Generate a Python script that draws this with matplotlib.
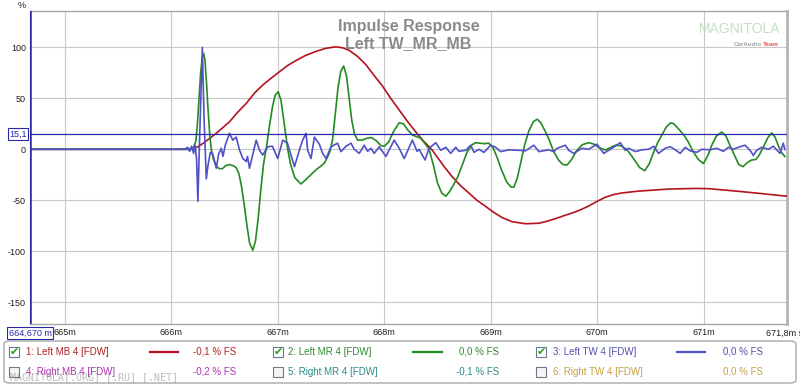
import numpy as np
import matplotlib
matplotlib.use("Agg")
import matplotlib.pyplot as plt
from matplotlib.patches import Rectangle, FancyBboxPatch

plt.rcParams['font.family'] = ['Liberation Sans', 'DejaVu Sans']

# ---------------- data (time in ms, amplitude in %) ----------------
mb_t = [664.672, 666.150, 666.200, 666.250, 666.300, 666.350, 666.422, 666.480, 666.546,
        666.620, 666.703, 666.780, 666.858, 666.940, 667.015, 667.090, 667.170, 667.260,
        667.359, 667.450, 667.546, 667.610, 667.671, 667.750, 667.827, 667.900, 667.983,
        668.060, 668.140, 668.220, 668.296, 668.360, 668.421, 668.452, 668.500, 668.570,
        668.639, 668.720, 668.796, 668.870, 668.952, 669.030, 669.108, 669.200, 669.327,
        669.452, 669.530, 669.608, 669.690, 669.764, 669.840, 669.920, 670.000, 670.077,
        670.150, 670.232, 670.389, 670.530, 670.670, 670.827, 670.940, 671.045, 671.200,
        671.357, 671.550, 671.780]
mb_v = [0, 0, 0.5, 2.5, 6, 10, 15.7, 21, 27,
        36, 45, 55, 63, 70, 76, 82, 87, 92,
        96, 99, 100.5, 99.5, 97, 91, 83, 73, 62,
        50, 38.5, 27, 17, 9, 2.5, -1, -8, -18,
        -27, -36, -43, -50, -56, -62, -67, -71, -73,
        -72.5, -70.5, -68, -65, -62.5, -59.5, -55.6, -51, -47,
        -44.5, -42.8, -41, -40, -39, -38.6, -38.4, -38.6, -40,
        -41.5, -43.5, -46]

mr_t = [664.672, 666.200, 666.230, 666.245, 666.260, 666.275, 666.290, 666.303, 666.315,
        666.330, 666.345, 666.360, 666.375, 666.395, 666.427, 666.450, 666.480, 666.510,
        666.546, 666.580, 666.609, 666.635, 666.660, 666.685, 666.710, 666.735, 666.765,
        666.790, 666.815, 666.840, 666.865, 666.896, 666.920, 666.950, 666.975, 667.003,
        667.030, 667.060, 667.093, 667.120, 667.160, 667.218, 667.260, 667.310, 667.360,
        667.410, 667.437, 667.465, 667.490, 667.515, 667.540, 667.565, 667.590, 667.618,
        667.645, 667.670, 667.695, 667.720, 667.750, 667.790, 667.840, 667.880, 667.930,
        667.970, 668.000, 668.040, 668.090, 668.140, 668.180, 668.220, 668.264, 668.300,
        668.340, 668.380, 668.421, 668.460, 668.500, 668.540, 668.577, 668.610, 668.650,
        668.690, 668.730, 668.777, 668.820, 668.858, 668.900, 668.940, 668.980, 669.020,
        669.060, 669.100, 669.150, 669.190, 669.218, 669.250, 669.284, 669.320, 669.358,
        669.400, 669.436, 669.470, 669.510, 669.546, 669.590, 669.640, 669.680, 669.717,
        669.760, 669.808, 669.860, 669.920, 669.970, 670.020, 670.077, 670.120, 670.170,
        670.220, 670.277, 670.320, 670.360, 670.400, 670.446, 670.490, 670.530, 670.570,
        670.607, 670.650, 670.690, 670.720, 670.773, 670.820, 670.857, 670.900, 670.950,
        670.998, 671.040, 671.080, 671.120, 671.170, 671.210, 671.242, 671.290, 671.330,
        671.370, 671.410, 671.450, 671.490, 671.520, 671.560, 671.600, 671.639, 671.670,
        671.700, 671.730, 671.762]
mr_v = [0, 0, 8, 25, 50, 75, 90, 94, 88,
        65, 38, 15, 0, -10, -17, -19, -19, -16,
        -15, -16, -18, -24, -37, -55, -75, -92, -99,
        -90, -68, -40, -15, 4, 22, 42, 53, 56.5,
        48, 25, 0, -15, -28, -34, -30, -25, -20,
        -16, -13.5, -8, -2, 10, 35, 60, 76, 81.7,
        72, 50, 28, 15, 9, 9, 11, 11.5, 8,
        3.5, 3, 7, 18, 26, 25, 19, 14, 12.5,
        11, 6, 0, -15, -33, -43, -46, -42, -35,
        -27, -16, -3, 4, 6.5, 6, 5.5, 6, 2,
        -8, -20, -32, -37, -37, -28, -12, 5, 18,
        27, 29.5, 26, 18, 10, -2, -11, -15, -15.4,
        -10, -1, 4.5, 6.5, 5, 1.5, -0.7, 1.5, 4,
        3.5, 0, -6, -12, -18, -21, -14, -3, 7,
        14, 22, 26, 25, 19, 13, 7, -2, -10,
        -14, -6, 5, 13, 17, 13, 5, -6, -15,
        -17, -13, -10.5, -10, -6, 2, 11, 16, 12,
        4, -3, -7]

tw_t = [664.672, 666.125, 666.153, 666.172, 666.190, 666.209, 666.223, 666.237, 666.249,
        666.265, 666.291, 666.307, 666.328, 666.345, 666.366, 666.387, 666.422, 666.443,
        666.469, 666.484, 666.509, 666.546, 666.577, 666.609, 666.640, 666.671, 666.703,
        666.715, 666.734, 666.753, 666.797, 666.828, 666.858, 666.905, 666.949, 666.999,
        667.046, 667.090, 667.156, 667.202, 667.233, 667.265, 667.280, 667.312, 667.343,
        667.390, 667.421, 667.453, 667.500, 667.561, 667.593, 667.640, 667.687, 667.718,
        667.765, 667.812, 667.843, 667.874, 667.905, 667.952, 668.015, 668.093, 668.140,
        668.187, 668.264, 668.308, 668.327, 668.383, 668.421, 668.484, 668.530, 668.577,
        668.624, 668.671, 668.702, 668.765, 668.812, 668.843, 668.889, 668.936, 668.999,
        669.046, 669.093, 669.171, 669.264, 669.327, 669.405, 669.452, 669.545, 669.592,
        669.623, 669.702, 669.733, 669.780, 669.858, 669.920, 669.998, 670.061, 670.139,
        670.217, 670.264, 670.295, 670.358, 670.420, 670.483, 670.530, 670.576, 670.639,
        670.686, 670.733, 670.780, 670.827, 670.873, 670.935, 670.982, 671.061, 671.123,
        671.186, 671.233, 671.279, 671.326, 671.389, 671.436, 671.467, 671.498, 671.545,
        671.607, 671.654, 671.717, 671.748, 671.762]
tw_v = [0, 0, 2, -2, 3, -4, 4, -10, -51,
        10, 100, 30, -29, -15, -3, -4, -18.6, -5,
        1, -7, 5, 15.7, 9, 12, -0.7, -9, -12,
        -7, -18.6, -10, 9, -1, -5.6, 2.5, 3, -9,
        9, 6, -17, -1, 9, 15.7, -1, -9, 12,
        5, -4, -9, 2.5, 6, -2.3, 3, 6, 0,
        -4, 4, -2, 1, -4, 2.5, -7, 9, 1,
        -9, 9, -2, 0, -10.5, 1, 6.5, -1, 2,
        -4, 2, -2, -1, 4, -3, 0, -3, 4,
        2, -2.3, -0.5, -1, -1.5, 4, -2.3, -0.5, -2.3,
        1, 4, -1, -4, 1, 0, 5, -4, 1,
        6.5, -1, 1, -2.3, -0.5, 0, 3, -4, 1,
        2.5, -0.5, -4, 2, -1.5, -3, 0, -0.5, 1,
        -2, 2, 0, 2, 4, -1, -6, -1, 2,
        0, 3, -4, 6, 0]

cursor_y = 15.1
cursor_x = 664.672
x_ticks = [665, 666, 667, 668, 669, 670, 671]
x_tick_labels = ['665m', '666m', '667m', '668m', '669m', '670m', '671m']
y_ticks = [-150, -100, -50, 0, 50, 100]
y_tick_labels = ['-150', '-100', '-50', '0', '50', '100']

legend_names = ['1: Left MB 4 [FDW]', '2: Left MR 4 [FDW]', '3: Left TW 4 [FDW]',
                '4: Right MB 4 [FDW]', '5: Right MR 4 [FDW]', '6: Right TW 4 [FDW]']
legend_values = ['-0,1 % FS', '0,0 % FS', '0,0 % FS', '-0,2 % FS', '-0,1 % FS', '0,0 % FS']
legend_checked = [True, True, True, False, False, False]

# ---------------- styles ----------------
c_mb = '#b3121e'
c_mr = '#228b22'
c_tw = '#5050c8'
legend_colors = ['#b22222', '#2e8b2e', '#5050b0', '#b030b0', '#2a8a8a', '#c8a040']

W, H = 800, 385
fig = plt.figure(figsize=(W / 100, H / 100), dpi=100)
fig.patch.set_facecolor('white')

def fx(px):
    return px / W

def fy(py):
    return 1 - py / H

ax = fig.add_axes([fx(30), fy(324), fx(786.7) - fx(30), fy(10.7) - fy(324)])
ax.set_xlim(664.672, 671.78)
ax.set_ylim(-171.3, 135.9)

ax.plot(mb_t, mb_v, color=c_mb, lw=1.2, zorder=3, solid_joinstyle='round')
ax.plot(mr_t, mr_v, color=c_mr, lw=1.2, zorder=4, solid_joinstyle='round')
ax.plot(tw_t, tw_v, color=c_tw, lw=1.2, zorder=5, solid_joinstyle='round')

ax.axhline(cursor_y, color='#2828a8', lw=0.9, zorder=6)
ax.axvline(cursor_x, color='#2828a8', lw=1.8, zorder=6)

ax.set_xticks(x_ticks)
ax.set_xticklabels(x_tick_labels)
ax.set_yticks(y_ticks)
ax.set_yticklabels(y_tick_labels)
ax.tick_params(axis='both', length=0, labelsize=6.5, colors='#202020')
ax.tick_params(axis='x', pad=3)
ax.tick_params(axis='y', pad=3)
ax.grid(True, color='#c8c8c8', lw=0.8, zorder=0)
ax.set_axisbelow(True)
for s in ['top', 'bottom']:
    ax.spines[s].set_color('#a8a8a8')
    ax.spines[s].set_linewidth(1.0)
ax.spines['right'].set_color('#b4b4b4')
ax.spines['right'].set_linewidth(2.0)
ax.spines['left'].set_color('#2828a8')

# title
ax.text(0.5, 0.975, 'Impulse Response', transform=ax.transAxes, ha='center', va='top',
        fontsize=11.5, fontweight='bold', color='#8a8a8a', zorder=7)
ax.text(0.5, 0.92, 'Left TW_MR_MB', transform=ax.transAxes, ha='center', va='top',
        fontsize=11.5, fontweight='bold', color='#8a8a8a', zorder=7)

# logo
fig.text(fx(740), fy(29), 'MAGNITOLA', ha='center', va='center', fontsize=10,
         color='#c4e0c4')
fig.text(fx(762), fy(45), 'CarAudio', ha='right', va='center', fontsize=4.5,
         color='#a0a0a0', fontweight='bold')
fig.text(fx(763), fy(45), 'Team', ha='left', va='center', fontsize=4.5,
         color='#e05050', fontweight='bold')

# axis unit / cursor labels
fig.text(fx(22), fy(5), '%', ha='center', va='center', fontsize=6.5, color='#202020')
fig.text(fx(30), fy(333), '664,670 m', ha='center', va='center', fontsize=6.5, color='#2828a8',
         bbox=dict(boxstyle='square,pad=0.15', fc='white', ec='#2828a8', lw=0.8), zorder=10)
fig.text(fx(18), fy(134), '15,1', ha='center', va='center', fontsize=6.5, color='#2828a8',
         bbox=dict(boxstyle='square,pad=0.15', fc='white', ec='#2828a8', lw=0.8), zorder=10)
fig.text(fx(766), fy(333), '671,8m s', ha='left', va='center', fontsize=6.5, color='#202020')

# legend panel
panel = FancyBboxPatch((fx(4), fy(383)), fx(796) - fx(4), fy(341) - fy(383),
                       boxstyle='round,pad=0,rounding_size=0.008', transform=fig.transFigure,
                       fc='white', ec='#a0a0a0', lw=0.9)
fig.patches.append(panel)

box_x = [8.5, 272.5, 535.5]
name_x = [26, 288, 553]
line_x = [(150, 178), (413, 442), (677, 705)]
val_x = [236, 499, 763]
row_y = [352, 372]
line_colors = [c_mb, c_mr, c_tw]

for i in range(6):
    r, c = divmod(i, 3)
    y = row_y[r]
    col = legend_colors[i]
    box = Rectangle((fx(box_x[c]), fy(y + 5)), fx(10), fy(0) - fy(10), transform=fig.transFigure,
                    fc='#f4f4f4' if not legend_checked[i] else 'white', ec='#6a7a8a', lw=0.8)
    fig.patches.append(box)
    if legend_checked[i]:
        fig.text(fx(box_x[c] + 5.5), fy(y - 0.5), '\u2714', ha='center', va='center',
                 fontsize=8, color='#22a022', family='DejaVu Sans')
    fig.text(fx(name_x[c]), fy(y), legend_names[i], ha='left', va='center',
             fontsize=7, color=col)
    fig.text(fx(val_x[c]), fy(y), legend_values[i], ha='right', va='center',
             fontsize=7, color=col)
    if legend_checked[i]:
        fig.lines.append(plt.Line2D([fx(line_x[c][0]), fx(line_x[c][1])], [fy(y), fy(y)],
                                    transform=fig.transFigure, color=line_colors[c], lw=1.6))

fig.text(fx(10), fy(377), 'MAGNITOLA[.ORG] [.RU] [.NET]', ha='left', va='center',
         fontsize=7.2, family='DejaVu Sans Mono', color='#909090', alpha=0.6)

fig.savefig('out.png', dpi=100, facecolor='white')
